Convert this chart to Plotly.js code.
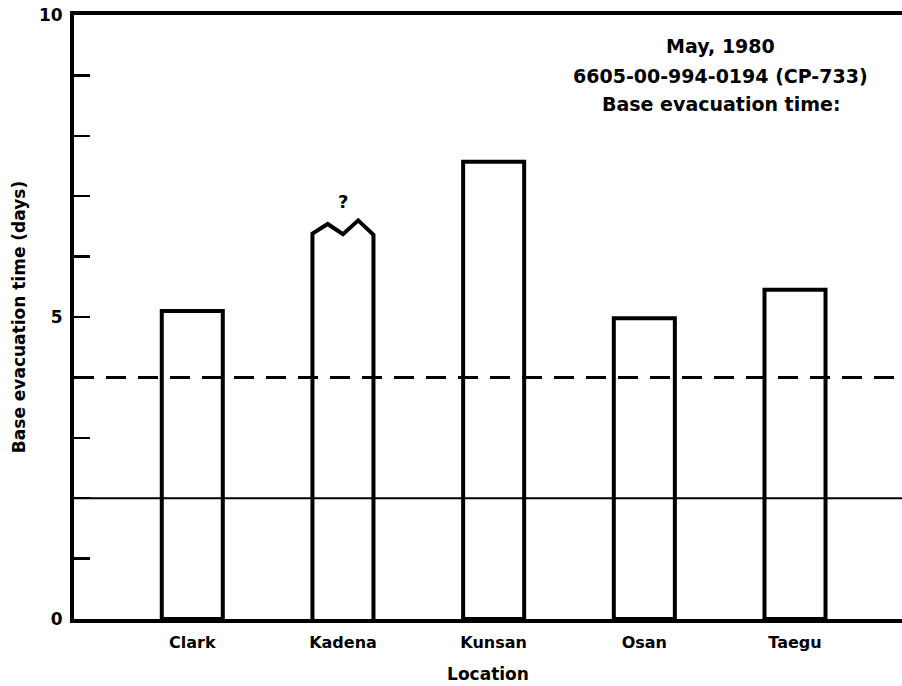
<!DOCTYPE html>
<html>
<head>
<meta charset="utf-8">
<script src="https://cdn.plot.ly/plotly-3.0.1.min.js"></script>
<style>html,body{margin:0;padding:0;background:#fff}#chart{width:902px;height:686px}</style>
</head>
<body>
<div id="chart"></div>
<script>
// Data
const locations = ['Clark', 'Kadena', 'Kunsan', 'Osan', 'Taegu'];
const evacDays = [5.1, 6.38, 7.57, 4.98, 5.45];
// Kadena's uncertain (broken) top profile, read left to right
const kadenaTopProfile = [6.38, 6.54, 6.37, 6.6, 6.36];
const dashedLevel = 4.0;
const solidLevel = 2.0;
const yTickVals = [0,1,2,3,4,5,6,7,8,9,10];
const yTickText = ['0','','','','','5','','','','','10'];
const noteLines = ['May, 1980', '6605-00-994-0194 (CP-733)', 'Base evacuation time:'];

const barWidth = 0.405;
const FONT = 'DejaVu Sans, Verdana, sans-serif';
const idx = locations.map((_, i) => i);

const plainIdx = idx.filter(i => locations[i] !== 'Kadena');
const kIdx = locations.indexOf('Kadena');

const traces = [];
traces.push({
  type: 'bar',
  x: plainIdx,
  y: plainIdx.map(i => evacDays[i]),
  width: barWidth,
  marker: {color: 'rgba(255,255,255,0)', line: {color: '#000', width: 4}},
  hoverinfo: 'skip',
  showlegend: false
});
// Kadena bar outline with broken top
const kx0 = kIdx - barWidth/2, kx1 = kIdx + barWidth/2;
const n = kadenaTopProfile.length;
const kxs = [kx0].concat(kadenaTopProfile.map((_, j) => kx0 + (kx1 - kx0) * j / (n - 1))).concat([kx1]);
const kys = [0].concat(kadenaTopProfile).concat([0]);
traces.push({
  type: 'scatter', mode: 'lines', x: kxs, y: kys,
  line: {color: '#000', width: 4}, hoverinfo: 'skip', showlegend: false
});

const noteY = [0.949, 0.899, 0.853];
const noteAnns = noteLines.map((t, i) => ({
  x: 0.781, y: noteY[i], xref: 'paper', yref: 'paper', text: t,
  showarrow: false, xanchor: 'center', yanchor: 'middle',
  font: {family: FONT, size: 19, color: '#000', weight: 'bold'}
}));

const layout = {
  width: 902, height: 686,
  margin: {l: 74, r: 0, t: 15, b: 67},
  paper_bgcolor: '#fff', plot_bgcolor: '#fff',
  font: {family: FONT, color: '#000'},
  bargap: 0,
  xaxis: {
    range: [-0.785, 4.71],
    tickvals: idx, ticktext: locations,
    tickfont: {family: FONT, size: 16, color: '#000', weight: 'bold'},
    ticks: '', showgrid: false, zeroline: false, ticklabelstandoff: 6,
    showline: true, linecolor: '#000', linewidth: 4, mirror: true,
    title: {text: 'Location', font: {family: FONT, size: 17, color: '#000', weight: 'bold'}, standoff: 18},
    fixedrange: true
  },
  yaxis: {
    range: [0, 10],
    tickvals: yTickVals, ticktext: yTickText,
    tickfont: {family: FONT, size: 17, color: '#000', weight: 'bold'},
    ticks: 'inside', ticklen: 16, tickwidth: 2.5, tickcolor: '#000',
    showgrid: false, zeroline: false, ticklabelstandoff: 4,
    showline: true, linecolor: '#000', linewidth: 4,
    title: {text: 'Base evacuation time (days)', font: {family: FONT, size: 17, color: '#000', weight: 'bold'}, standoff: 10},
    fixedrange: true
  },
  shapes: [
    {type: 'line', xref: 'paper', x0: 0, x1: 1, yref: 'y', y0: dashedLevel, y1: dashedLevel,
     line: {color: '#000', width: 3, dash: '20px,12px'}, layer: 'below'},
    {type: 'line', xref: 'paper', x0: 0, x1: 1, yref: 'y', y0: solidLevel, y1: solidLevel,
     line: {color: '#000', width: 2}, layer: 'below'}
  ],
  annotations: [
    {x: kIdx, y: kadenaTopProfile[3], xref: 'x', yref: 'y', text: '?', showarrow: false,
     yanchor: 'bottom', yshift: 6, font: {family: FONT, size: 18, color: '#000', weight: 'bold'}}
  ].concat(noteAnns)
};

Plotly.newPlot('chart', traces, layout, {displayModeBar: false, staticPlot: true});
</script>
</body>
</html>
